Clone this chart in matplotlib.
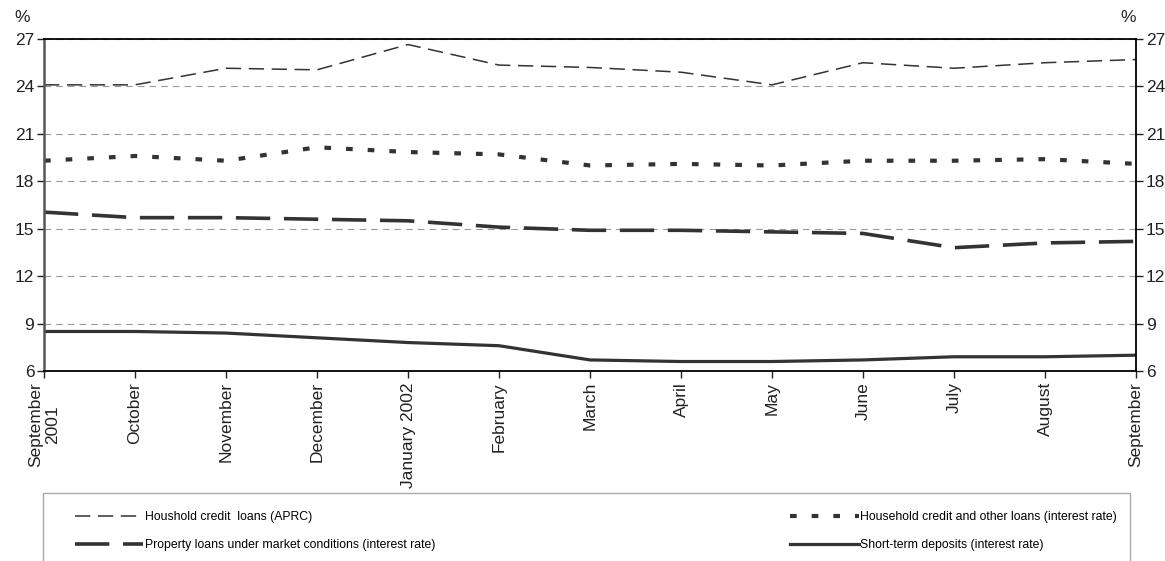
import matplotlib.pyplot as plt
from matplotlib.patches import Rectangle

# Monthly interest rates, September 2001 - September 2002 (%)
months = ['September\n2001', 'October', 'November', 'December', 'January 2002',
          'February', 'March', 'April', 'May', 'June', 'July', 'August', 'September']
aprc = [24.1, 24.1, 25.15, 25.05, 26.65, 25.35, 25.2, 24.9, 24.1, 25.5, 25.15, 25.5, 25.7]
household = [19.3, 19.6, 19.3, 20.15, 19.85, 19.7, 19.0, 19.1, 19.0, 19.3, 19.3, 19.4, 19.1]
property_loans = [16.05, 15.7, 15.7, 15.6, 15.5, 15.1, 14.9, 14.9, 14.8, 14.7, 13.8, 14.1, 14.2]
deposits = [8.5, 8.5, 8.4, 8.1, 7.8, 7.6, 6.7, 6.6, 6.6, 6.7, 6.9, 6.9, 7.0]
yticks = [6, 9, 12, 15, 18, 21, 24, 27]

plt.rcParams['font.family'] = ['Liberation Sans', 'DejaVu Sans']
line_col = '#333333'

fig = plt.figure(figsize=(11.65, 5.61), dpi=100)
ax = fig.add_axes([44 / 1165, 190 / 561, 1092 / 1165, 332 / 561])
x = list(range(len(months)))

l1, = ax.plot(x, aprc, color=line_col, lw=1.1, dashes=(10, 5),
              label='Houshold credit  loans (APRC)')
l2, = ax.plot(x, household, color=line_col, lw=3.0, dashes=(1.6, 3.6),
              label='Household credit and other loans (interest rate)')
l3, = ax.plot(x, property_loans, color=line_col, lw=2.6, dashes=(9.5, 3.8),
              label='Property loans under market conditions (interest rate)')
l4, = ax.plot(x, deposits, color=line_col, lw=2.3, solid_joinstyle='round',
              label='Short-term deposits (interest rate)')

ax.set_xlim(0, len(months) - 1)
ax.set_ylim(6, 27)
ax.set_yticks(yticks)
ax.set_xticks(x)
ax.set_xticklabels(months, rotation=90, ha='center', va='top', multialignment='center')
ax.grid(axis='y', color='#9a9a9a', linestyle=(0, (6, 4.5)), lw=0.8)
ax.set_axisbelow(True)

ax.tick_params(axis='y', which='both', left=True, right=True, labelleft=True,
               labelright=True, direction='out', length=5, width=1, labelsize=12.5,
               colors='#222222', pad=2)
ax.tick_params(axis='x', direction='out', length=5, width=1, labelsize=12.5,
               colors='#222222', pad=3)

ax.spines['left'].set_color('#555555')
ax.spines['left'].set_linewidth(1.8)
for side in ['right', 'top', 'bottom']:
    ax.spines[side].set_color('black')
    ax.spines[side].set_linewidth(1.3)

fig.text(22 / 1165, 1 - 18 / 561, '%', fontsize=12.5, ha='center', va='center', color='#222222')
fig.text(1128 / 1165, 1 - 18 / 561, '%', fontsize=12.5, ha='center', va='center', color='#222222')

# legend frame runs off the bottom edge of the figure
fig.patches.append(Rectangle((43 / 1165, -0.05), (1130 - 43) / 1165, 0.05 + 68 / 561,
                             transform=fig.transFigure, fill=False,
                             edgecolor='#aaaaaa', lw=1.0))

leg = fig.legend([l1, l3, l2, l4], [h.get_label() for h in [l1, l3, l2, l4]],
                 ncol=2, loc='upper left', bbox_to_anchor=(75 / 1165, 1 - 511 / 561),
                 frameon=False, prop={'size': 8.8},
                 handlelength=5.6, handletextpad=0.15, columnspacing=29,
                 labelspacing=1.3, borderpad=0, borderaxespad=0)

fig.savefig('out.png', dpi=100)
